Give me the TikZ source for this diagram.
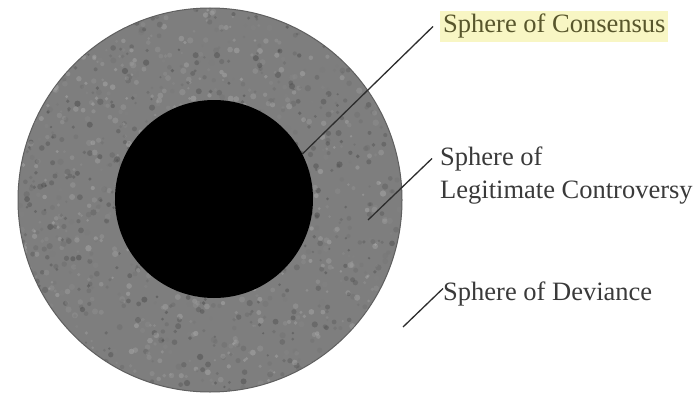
\documentclass[tikz,border=0pt]{standalone}
\usepackage{fontspec}
\setmainfont{Liberation Serif}
\definecolor{ringgray}{RGB}{126,126,126}
\definecolor{ringedge}{RGB}{95,95,95}
\definecolor{hilite}{RGB}{248,246,196}
\definecolor{labeltext}{RGB}{58,58,58}
\definecolor{constext}{RGB}{88,86,44}
\definecolor{leadercol}{RGB}{45,45,45}
\begin{document}
\begin{tikzpicture}[x=1pt,y=-1pt,
  lbl/.style={anchor=base west, inner sep=0pt, font=\fontsize{26.5}{33}\selectfont, text=labeltext},
  leaderline/.style={draw=leadercol, line width=1.3pt},
  speck/.style={opacity=0.35},
]
\useasboundingbox (0,0) rectangle (698,396);
\fill[white] (0,0) rectangle (698,396);
% outer sphere
\node[circle, minimum size=384pt, inner sep=0pt, fill=ringgray, draw=ringedge, line width=1pt] (outer) at (210,200) {};
\begin{scope}
  \clip (210,200) circle (191.5);
  \pgfmathsetseed{11}
  \foreach \i in {1,...,1800} {
    \pgfmathsetmacro{\px}{18+384*rnd}
    \pgfmathsetmacro{\py}{8+384*rnd}
    \pgfmathsetmacro{\g}{25+55*rnd}
    \pgfmathsetmacro{\r}{1.2+2*rnd}
    \fill[black!\g!white, speck] (\px,\py) circle (\r);
  }
\end{scope}
% inner sphere (consensus)
\node[circle, minimum size=198pt, inner sep=0pt, fill=black] (inner) at (214,199) {};
% labels
\node[lbl, fill=hilite, inner xsep=3pt, inner ysep=3pt, text=constext] (cons) at (440,33) {Sphere of Consensus};
\node[lbl] (legitA) at (440,165) {Sphere of};
\node[lbl] (legitB) at (440,198) {Legitimate Controversy};
\node[lbl] (dev) at (443,300) {Sphere of Deviance};
% leader lines
\coordinate (c2) at (368,220);
\coordinate (c3) at (403,327);
\draw[leaderline] (inner.27) -- ([xshift=-7pt]cons.west);
\draw[leaderline] (c2) -- ([xshift=-8pt]legitA.west);
\draw[leaderline] (c3) -- ([yshift=5pt]dev.west);
\end{tikzpicture}
\end{document}
